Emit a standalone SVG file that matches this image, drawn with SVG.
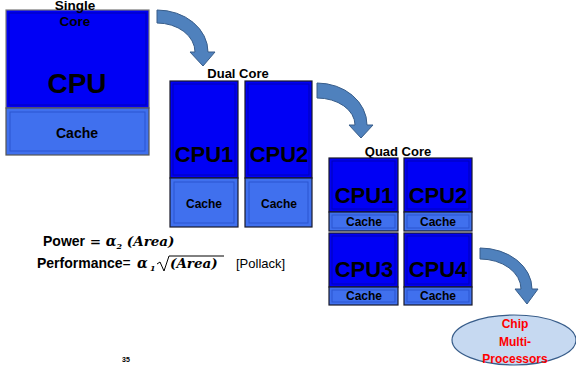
<svg xmlns="http://www.w3.org/2000/svg" width="576" height="366" viewBox="0 0 576 366">
<style>
.cpu{fill:#0000F5;stroke:#1a1a2a;stroke-width:1.2}
.cpuin{fill:none;stroke:#0000B8;stroke-width:1}
.cache{fill:#4070EE;stroke:#1a1a2a;stroke-width:1.2}
.cachein{fill:none;stroke:#2A55D0;stroke-width:1}
.t{font-family:"Liberation Sans",Arial,sans-serif;font-weight:bold;fill:#000;text-anchor:middle}
.arrow{fill:#4F81BD;stroke:#385D8A;stroke-width:1}
.m{font-family:"DejaVu Serif","Liberation Serif",serif;font-weight:bold;font-style:italic}
</style>
<g id="connectors">
<path class="arrow" d="M157,10 A51,42 0 0 1 208,52 L215,52 L203,66 L190,52 L195,52 A38,29 0 0 0 157,23 Z"/>
<path class="arrow" d="M317,83 A50,42 0 0 1 367,125 L373,125 L361,138 L349,125 L355,125 A38,27 0 0 0 317,98 Z"/>
<path class="arrow" d="M480,248 A52,41 0 0 1 532,289 L538,289 L527,304 L515,289 L521,289 A41,30 0 0 0 480,259 Z"/>
</g>
<g id="single-core">
<rect class="cpu" x="6" y="10" width="143" height="98" style="stroke:#777"/>
<rect class="cpuin" x="9" y="13" width="137" height="92"/>
<rect class="cache" x="6" y="108" width="143" height="47" style="stroke:#555"/>
<rect class="cachein" x="10" y="112" width="135" height="39"/>
<text class="t" x="75" y="10" font-size="13.5">Single</text>
<text class="t" x="75" y="26" font-size="13.5">Core</text>
<text class="t" x="77" y="93" font-size="28">CPU</text>
<text class="t" x="77" y="138" font-size="14">Cache</text>
</g>
<g id="dual-core">
<text class="t" x="238" y="78" font-size="13">Dual Core</text>
<rect class="cpu" x="170" y="81" width="68" height="97"/>
<rect class="cpuin" x="173" y="84" width="62" height="91"/>
<rect class="cache" x="170" y="178" width="68" height="49"/>
<rect class="cachein" x="174" y="182" width="60" height="41"/>
<text class="t" x="204" y="162" font-size="22">CPU1</text>
<text class="t" x="204" y="208" font-size="12">Cache</text>
<rect class="cpu" x="245" y="81" width="67" height="97"/>
<rect class="cpuin" x="248" y="84" width="61" height="91"/>
<rect class="cache" x="245" y="178" width="67" height="49"/>
<rect class="cachein" x="249" y="182" width="59" height="41"/>
<text class="t" x="279" y="162" font-size="22">CPU2</text>
<text class="t" x="279" y="208" font-size="12">Cache</text>
</g>
<g id="quad-core">
<text class="t" x="398" y="156" font-size="13">Quad Core</text>
<g id="q1">
<rect class="cpu" x="329" y="158" width="69" height="54"/>
<rect class="cpuin" x="332" y="161" width="63" height="48"/>
<rect class="cache" x="329" y="212" width="69" height="19"/>
<rect class="cachein" x="332" y="215" width="63" height="13"/>
<text class="t" x="364" y="203" font-size="22">CPU1</text>
<text class="t" x="364" y="226" font-size="12">Cache</text>
</g>
<g id="q2">
<rect class="cpu" x="404" y="158" width="68" height="54"/>
<rect class="cpuin" x="407" y="161" width="62" height="48"/>
<rect class="cache" x="404" y="212" width="68" height="19"/>
<rect class="cachein" x="407" y="215" width="62" height="13"/>
<text class="t" x="438" y="203" font-size="22">CPU2</text>
<text class="t" x="438" y="226" font-size="12">Cache</text>
</g>
<g id="q3">
<rect class="cpu" x="329" y="233" width="69" height="54"/>
<rect class="cpuin" x="332" y="236" width="63" height="48"/>
<rect class="cache" x="329" y="287" width="69" height="18"/>
<rect class="cachein" x="332" y="290" width="63" height="12"/>
<text class="t" x="364" y="277" font-size="22">CPU3</text>
<text class="t" x="364" y="300" font-size="12">Cache</text>
</g>
<g id="q4">
<rect class="cpu" x="404" y="233" width="68" height="54"/>
<rect class="cpuin" x="407" y="236" width="62" height="48"/>
<rect class="cache" x="404" y="287" width="68" height="18"/>
<rect class="cachein" x="407" y="290" width="62" height="12"/>
<text class="t" x="438" y="277" font-size="22">CPU4</text>
<text class="t" x="438" y="300" font-size="12">Cache</text>
</g>
</g>
<g id="cmp">
<ellipse cx="514" cy="340" rx="62" ry="25" fill="#C6D9F1" stroke="#385D8A" stroke-width="1.2"/>
<text class="t" x="515" y="328" font-size="12" style="fill:#FF0000">Chip</text>
<text class="t" x="515" y="346" font-size="12" style="fill:#FF0000">Multi-</text>
<text class="t" x="515" y="363" font-size="12" style="fill:#FF0000">Processors</text>
</g>
<g id="formulas">
<text x="43" y="246" font-family="Liberation Sans,Arial,sans-serif" font-weight="bold" font-size="14">Power<tspan font-family="DejaVu Serif,serif" font-weight="bold" font-style="normal" font-size="13.5"> = </tspan><tspan class="m" font-size="14">α</tspan><tspan class="m" font-size="8" dy="3">2</tspan><tspan class="m" dy="-3" font-size="13.5"> (Area)</tspan></text>
<text x="37" y="268" font-family="Liberation Sans,Arial,sans-serif" font-weight="bold" font-size="14">Performance<tspan font-weight="normal">=</tspan></text>
<text x="137" y="268" class="m" font-size="14">α</text>
<text x="150" y="271" class="m" font-size="8">1</text>
<path d="M157,264 L160,262 L164,271 L169,256 L224,256" fill="none" stroke="#000" stroke-width="1"/>
<text x="170" y="268" class="m" font-size="13.5">(Area)</text>
<text x="236" y="268" font-family="Liberation Sans,Arial,sans-serif" font-size="13">[Pollack]</text>
<text class="t" x="126" y="362" font-size="7">35</text>
</g>
</svg>
